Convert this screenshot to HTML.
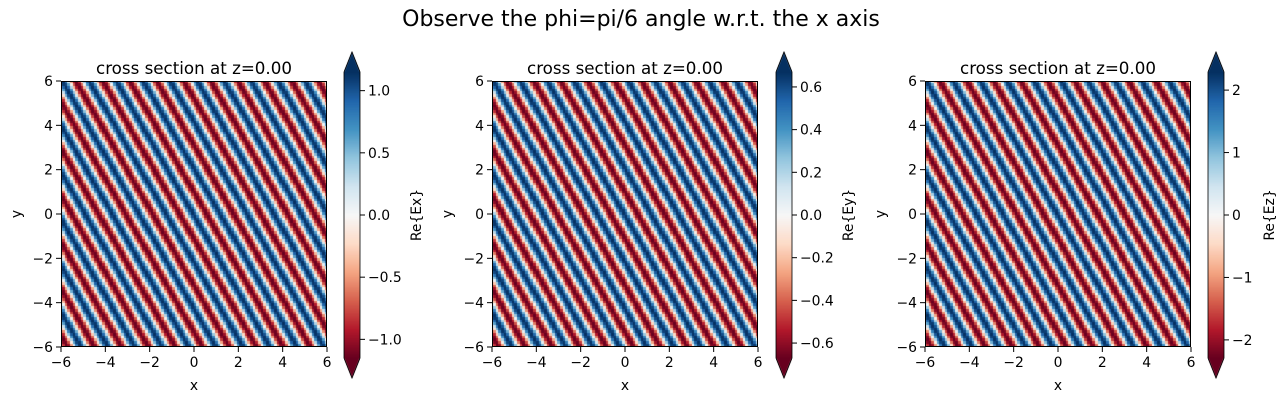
<!DOCTYPE html>
<html><head><meta charset="utf-8">
<style>
html,body{margin:0;padding:0;background:#fff;}
#wrap{position:relative;width:1285px;height:402px;overflow:hidden;font-family:"DejaVu Sans","Liberation Sans",sans-serif;}
canvas{position:absolute;}
svg{position:absolute;left:0;top:0;font-family:"DejaVu Sans","Liberation Sans",sans-serif;}
</style></head>
<body>
<div id="wrap">
<canvas id="c0"></canvas>
<canvas id="c1"></canvas>
<canvas id="c2"></canvas>
<canvas id="b0"></canvas>
<canvas id="b1"></canvas>
<canvas id="b2"></canvas>
<svg id="s" width="1285" height="402"></svg>
</div>
<script>
// data
const waveKx = [5.16, 5.16, 5.16];          // rad per unit along x
const waveKy = [2.98, 2.98, 2.98];          // rad per unit along y
const amplitudes = [1.15, 0.67, 2.29];
const fieldLabels = ["Re{Ex}", "Re{Ey}", "Re{Ez}"];
const axisTicks = [-6, -4, -2, 0, 2, 4, 6];
const cbTicks0 = [-1.0, -0.5, 0.0, 0.5, 1.0];
const cbTicks1 = [-0.6, -0.4, -0.2, 0.0, 0.2, 0.4, 0.6];
const cbTicks2 = [-2, -1, 0, 1, 2];
const cbTickLists = [cbTicks0, cbTicks1, cbTicks2];
const cbDecimals = [1, 1, 0];
const gridN = 100;

// layout
const plotLeft = [61, 492, 925], plotTop = 81, plotSize = 266;
const cbLeft = [344, 776, 1208], cbW = 16, cbTop = 72, cbBot = 358, cbTip = 20;
const labelX = [416, 848, 1269];

const RdBu = ["#67001f","#b2182b","#d6604d","#f4a582","#fddbc7","#f7f7f7","#d1e5f0","#92c5de","#4393c3","#2166ac","#053061"];
function hex(c){return [parseInt(c.substr(1,2),16),parseInt(c.substr(3,2),16),parseInt(c.substr(5,2),16)];}
const RGB = RdBu.map(hex);
function cmap(t){
  t=Math.max(0,Math.min(1,t));
  const p=t*10, i=Math.min(9,Math.floor(p)), f=p-i;
  const a=RGB[i], b=RGB[i+1];
  return `rgb(${Math.round(a[0]+(b[0]-a[0])*f)},${Math.round(a[1]+(b[1]-a[1])*f)},${Math.round(a[2]+(b[2]-a[2])*f)})`;
}
const svg=document.getElementById('s');
const NS="http://www.w3.org/2000/svg";
function el(tag,attrs,txt){const e=document.createElementNS(NS,tag);for(const k in attrs)e.setAttribute(k,attrs[k]);if(txt!==undefined)e.textContent=txt;svg.appendChild(e);return e;}
function fmt(v,d){const s=Math.abs(v).toFixed(d);return (v<0?"\u2212":"")+s;}

const title=el('text',{x:641,y:26,'font-size':22,'text-anchor':'middle',fill:'#000'},"Observe the phi=pi/6 angle w.r.t. the x axis");



for(let p=0;p<3;p++){
  const L=plotLeft[p];
  const xs=v=>L+(v+6)/12*plotSize;
  const ys=v=>plotTop+(6-v)/12*plotSize;
  const cv=document.getElementById('c'+p);
  cv.width=plotSize;cv.height=plotSize;cv.style.left=L+'px';cv.style.top=plotTop+'px';
  const ctx=cv.getContext('2d');
  const cell=plotSize/gridN;
  for(let i=0;i<gridN;i++){
    const x=-6+12*i/(gridN-1);
    for(let j=0;j<gridN;j++){
      const y=-6+12*j/(gridN-1);
      const v=amplitudes[p]*Math.cos(waveKx[p]*x+waveKy[p]*y);
      ctx.fillStyle=cmap((v/amplitudes[p]+1)/2);
      const px=xs(x)-L-cell/2, py=ys(y)-plotTop-cell/2;
      ctx.fillRect(Math.floor(px),Math.floor(py),Math.ceil(cell)+1,Math.ceil(cell)+1);
    }
  }
  const fr=el('rect',{x:L+0.5,y:plotTop+0.5,width:plotSize-1,height:plotSize-1,fill:'none',stroke:'#000','stroke-width':1});
  
  
  const t=el('text',{x:L+plotSize/2,y:74,'font-size':16.7,'text-anchor':'middle'},"cross section at z=0.00");
  
  
  axisTicks.forEach(v=>{
    const X=xs(v);
    el('line',{x1:X,y1:plotTop+plotSize,x2:X,y2:plotTop+plotSize+5,stroke:'#000'});
    const tx=el('text',{x:X,y:367,'font-size':13.9,'text-anchor':'middle'},fmt(v,0));
    
    
    const Y=ys(v);
    el('line',{x1:L-5,y1:Y,x2:L,y2:Y,stroke:'#000'});
    const ty=el('text',{x:L-8,y:Y+5,'font-size':13.9,'text-anchor':'end'},fmt(v,0));
    
    
  });
  const xl=el('text',{x:L+plotSize/2,y:390,'font-size':13.9,'text-anchor':'middle'},"x");
  
  
  const yl=el('text',{x:0,y:0,'font-size':13.9,'text-anchor':'middle',transform:`translate(${L-40},${plotTop+plotSize/2}) rotate(-90)`},"y");
  
  

  const A=amplitudes[p], C=cbLeft[p];
  const bc=document.getElementById('b'+p);
  bc.width=cbW;bc.height=cbBot-cbTop+2*cbTip;bc.style.left=C+'px';bc.style.top=(cbTop-cbTip)+'px';
  const bx=bc.getContext('2d');
  const H=cbBot-cbTop;
  for(let r=0;r<H;r++){bx.fillStyle=cmap(1-r/H);bx.fillRect(0,cbTip+r,cbW,1);}
  bx.fillStyle=cmap(1);bx.beginPath();bx.moveTo(0,cbTip);bx.lineTo(cbW/2,0);bx.lineTo(cbW,cbTip);bx.fill();
  bx.fillStyle=cmap(0);bx.beginPath();bx.moveTo(0,cbTip+H);bx.lineTo(cbW/2,2*cbTip+H);bx.lineTo(cbW,cbTip+H);bx.fill();
  const ol=el('path',{d:`M${C},${cbTop} L${C+cbW/2},${cbTop-cbTip} L${C+cbW},${cbTop} L${C+cbW},${cbBot} L${C+cbW/2},${cbBot+cbTip} L${C},${cbBot} Z`,fill:'none',stroke:'#000','stroke-width':0.8});
  
  
  const cy=v=>cbTop+(A-v)/(2*A)*H;
  cbTickLists[p].forEach(v=>{
    const Y=cy(v);
    el('line',{x1:C+cbW,y1:Y,x2:C+cbW+5,y2:Y,stroke:'#000'});
    const tt=el('text',{x:C+cbW+8,y:Y+5,'font-size':13.9},fmt(v,cbDecimals[p]));
    
    
  });
  const cl=el('text',{x:0,y:0,'font-size':13.9,'text-anchor':'middle',transform:`translate(${labelX[p]+5},${(cbTop+cbBot)/2}) rotate(-90)`},fieldLabels[p]);
  
  
}
</script>
</body></html>
